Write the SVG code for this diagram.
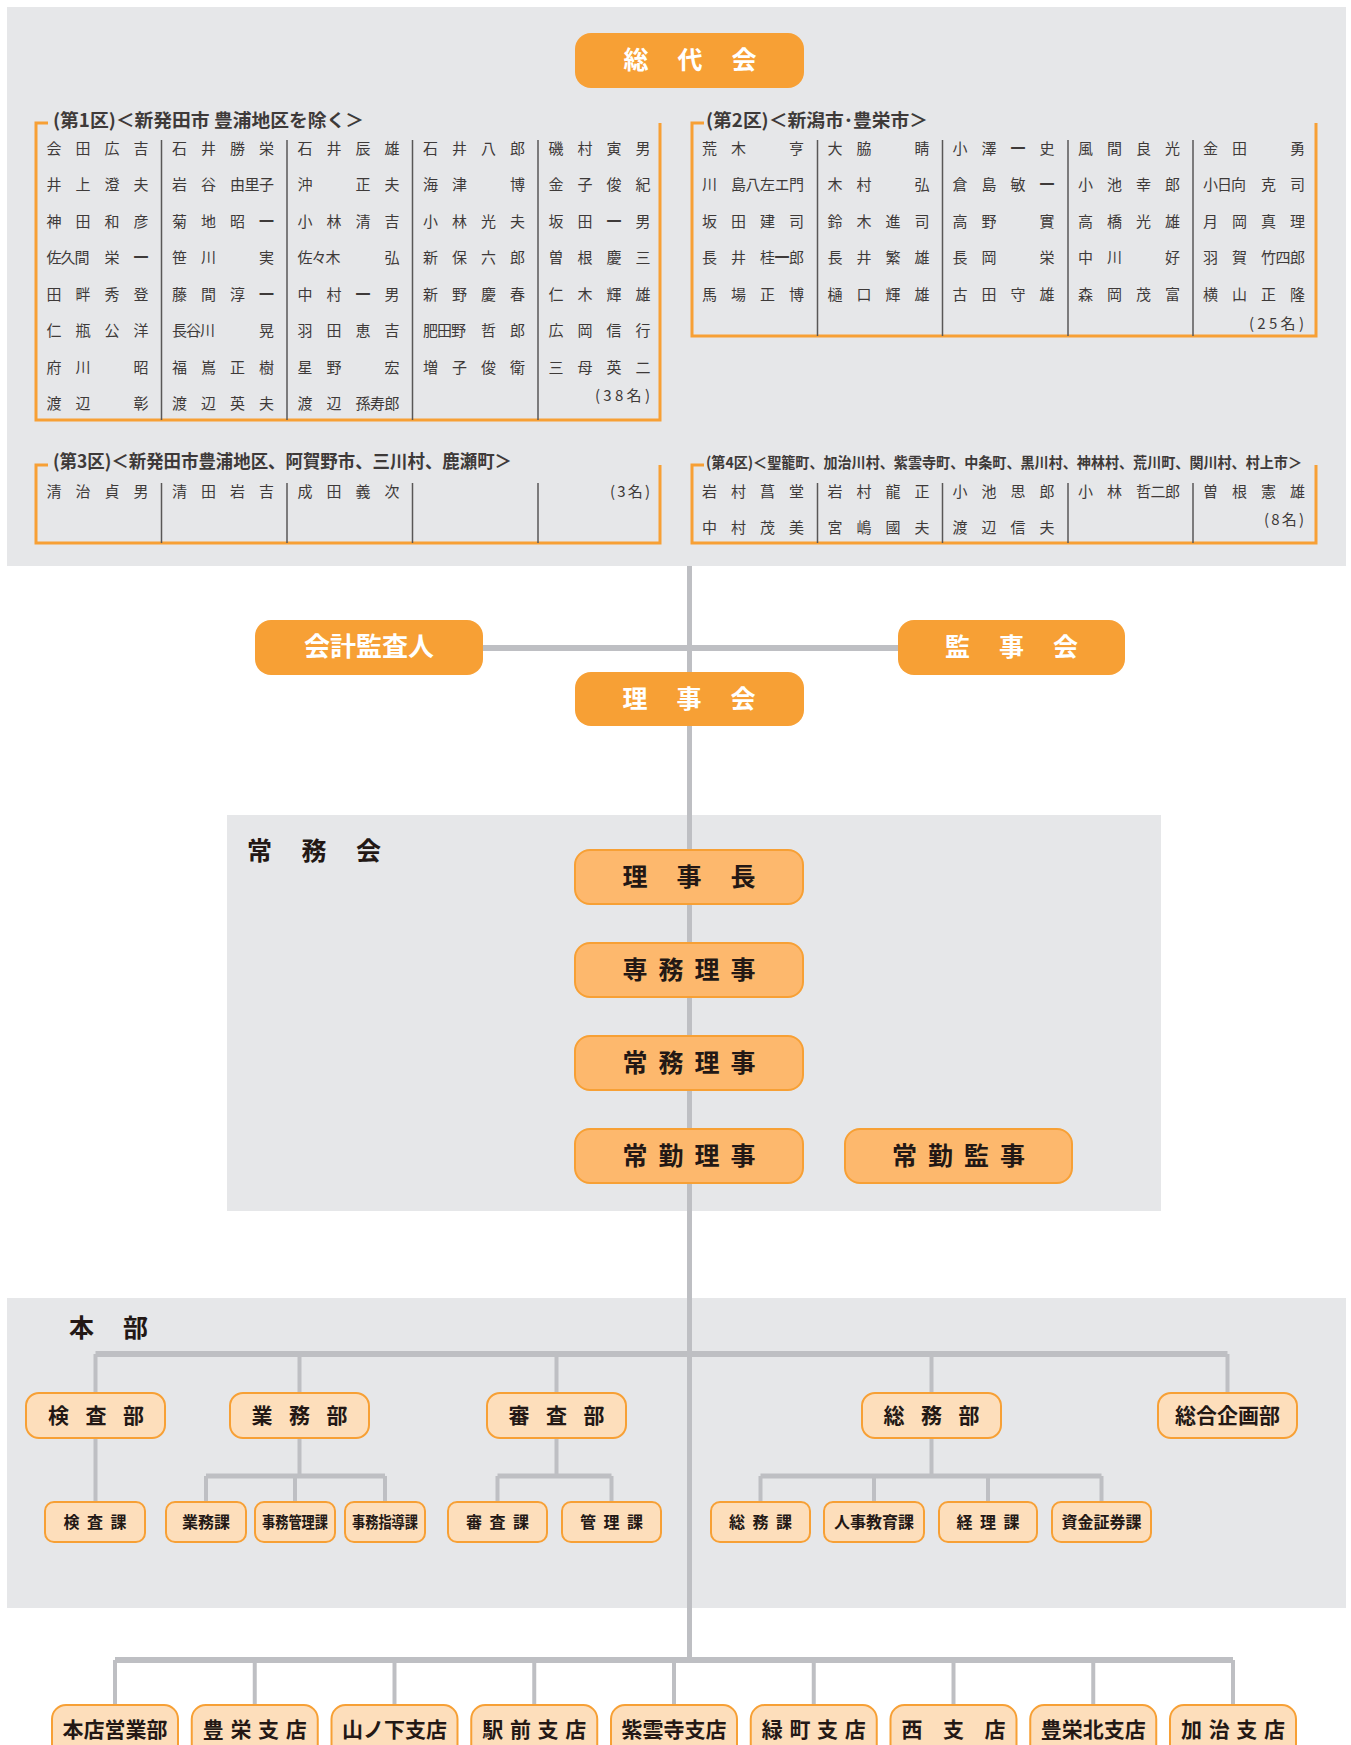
<svg xmlns="http://www.w3.org/2000/svg" width="1351" height="1745" viewBox="0 0 1351 1745">
<style>
text{font-family:"Noto Sans CJK JP","Noto Sans",sans-serif}
.panel{fill:#e6e7e9}
.nm{font-size:15px;fill:#3e3a39}
.nm .b{font-weight:bold}
.ttl{font-size:18px;font-weight:bold;fill:#3e3a39}
.br{fill:none;stroke:#f7a035;stroke-width:3}
.sep{stroke:#595757;stroke-width:1.5}
.bx1{fill:#f7a035}
.w{fill:#fff;font-size:25px;font-weight:bold;text-anchor:middle}
.bx2{fill:#fdb86d;stroke:#f7a035;stroke-width:2}
.bx3{fill:#fddebb;stroke:#f7a035;stroke-width:2}
.d{fill:#231815;font-weight:bold;text-anchor:middle}
.lbl{fill:#231815;font-weight:bold;font-size:25px}
.ln{stroke:#bebfc3;fill:none}
</style>

<!-- panels -->
<rect class="panel" x="7" y="7" width="1339" height="559"/>
<rect class="panel" x="227" y="815" width="934" height="396"/>
<rect class="panel" x="7" y="1298" width="1339" height="310"/>

<!-- connectors -->
<g id="connectors" class="ln">
  <line x1="689.5" y1="566" x2="689.5" y2="1660" stroke-width="5"/>
  <line x1="483" y1="648" x2="898" y2="648" stroke-width="6"/>
  <line x1="95.5" y1="1354" x2="1227.5" y2="1354" stroke-width="6"/>
  <line x1="95.5" y1="1354" x2="95.5" y2="1502" stroke-width="4"/>
  <line x1="299.5" y1="1354" x2="299.5" y2="1393" stroke-width="4"/>
  <line x1="556.5" y1="1354" x2="556.5" y2="1393" stroke-width="4"/>
  <line x1="931.5" y1="1354" x2="931.5" y2="1393" stroke-width="4"/>
  <line x1="1227.5" y1="1354" x2="1227.5" y2="1393" stroke-width="4"/>
  <line x1="299.5" y1="1438" x2="299.5" y2="1476" stroke-width="4"/>
  <line x1="206" y1="1476" x2="385" y2="1476" stroke-width="5"/>
  <line x1="206" y1="1476" x2="206" y2="1502" stroke-width="4"/>
  <line x1="295" y1="1476" x2="295" y2="1502" stroke-width="4"/>
  <line x1="385" y1="1476" x2="385" y2="1502" stroke-width="4"/>
  <line x1="556.5" y1="1438" x2="556.5" y2="1476" stroke-width="4"/>
  <line x1="497.5" y1="1476" x2="611.5" y2="1476" stroke-width="5"/>
  <line x1="497.5" y1="1476" x2="497.5" y2="1502" stroke-width="4"/>
  <line x1="611.5" y1="1476" x2="611.5" y2="1502" stroke-width="4"/>
  <line x1="931.5" y1="1438" x2="931.5" y2="1476" stroke-width="4"/>
  <line x1="760.5" y1="1476" x2="1101.5" y2="1476" stroke-width="5"/>
  <line x1="760.5" y1="1476" x2="760.5" y2="1502" stroke-width="4"/>
  <line x1="874" y1="1476" x2="874" y2="1502" stroke-width="4"/>
  <line x1="988" y1="1476" x2="988" y2="1502" stroke-width="4"/>
  <line x1="1101.5" y1="1476" x2="1101.5" y2="1502" stroke-width="4"/>
  <line x1="115" y1="1660" x2="1233" y2="1660" stroke-width="6"/>
  <line x1="115" y1="1660" x2="115" y2="1705" stroke-width="4"/>
  <line x1="254.75" y1="1660" x2="254.75" y2="1705" stroke-width="4"/>
  <line x1="394.5" y1="1660" x2="394.5" y2="1705" stroke-width="4"/>
  <line x1="534.25" y1="1660" x2="534.25" y2="1705" stroke-width="4"/>
  <line x1="674" y1="1660" x2="674" y2="1705" stroke-width="4"/>
  <line x1="813.75" y1="1660" x2="813.75" y2="1705" stroke-width="4"/>
  <line x1="953.5" y1="1660" x2="953.5" y2="1705" stroke-width="4"/>
  <line x1="1093.25" y1="1660" x2="1093.25" y2="1705" stroke-width="4"/>
  <line x1="1233" y1="1660" x2="1233" y2="1705" stroke-width="4"/>
</g>

<!-- top box -->
<g id="soudaikai">
  <rect class="bx1" x="575" y="33" width="229" height="55" rx="16"/>
  <text class="w" x="636 690 744" y="69">総代会</text>
</g>

<!-- District 1 -->
<g id="district1">
  <path class="br" d="M48,123 H36 V420 H660 V123"/>
  <text class="ttl" x="53" y="127" textLength="311" lengthAdjust="spacingAndGlyphs">(第1区)＜新発田市 豊浦地区を除く＞</text>
  <g class="sep">
    <line x1="161.5" y1="140" x2="161.5" y2="420"/>
    <line x1="287" y1="140" x2="287" y2="420"/>
    <line x1="412.5" y1="140" x2="412.5" y2="420"/>
    <line x1="538" y1="140" x2="538" y2="420"/>
  </g>
  <g class="nm">
    <text x="46.5 75.5 104.5 133.5" y="153.5">会田広吉</text>
    <text x="172 201 230 259" y="153.5">石井勝栄</text>
    <text x="297.5 326.5 355.5 384.5" y="153.5">石井辰雄</text>
    <text x="423 452 481 510" y="153.5">石井八郎</text>
    <text x="548.5 577.5 606.5 635.5" y="153.5">磯村寅男</text>

    <text x="46.5 75.5 104.5 133.5" y="190">井上澄夫</text>
    <text x="172 201 230 244.5 259" y="190">岩谷由里子</text>
    <text x="297.5 355.5 384.5" y="190">沖正夫</text>
    <text x="423 452 510" y="190">海津博</text>
    <text x="548.5 577.5 606.5 635.5" y="190">金子俊紀</text>

    <text x="46.5 75.5 104.5 133.5" y="226.5">神田和彦</text>
    <text x="172 201 230 259" y="226.5">菊地昭<tspan class="b">一</tspan></text>
    <text x="297.5 326.5 355.5 384.5" y="226.5">小林清吉</text>
    <text x="423 452 481 510" y="226.5">小林光夫</text>
    <text x="548.5 577.5 606.5 635.5" y="226.5">坂田<tspan class="b">一</tspan>男</text>

    <text x="46.5 60.5 74.5 104.5 133.5" y="263">佐久間栄<tspan class="b">一</tspan></text>
    <text x="172 201 259" y="263">笹川実</text>
    <text x="297.5 311.5 325.5 384.5" y="263">佐々木弘</text>
    <text x="423 452 481 510" y="263">新保六郎</text>
    <text x="548.5 577.5 606.5 635.5" y="263">曽根慶三</text>

    <text x="46.5 75.5 104.5 133.5" y="299.5">田畔秀登</text>
    <text x="172 201 230 259" y="299.5">藤間淳<tspan class="b">一</tspan></text>
    <text x="297.5 326.5 355.5 384.5" y="299.5">中村<tspan class="b">一</tspan>男</text>
    <text x="423 452 481 510" y="299.5">新野慶春</text>
    <text x="548.5 577.5 606.5 635.5" y="299.5">仁木輝雄</text>

    <text x="46.5 75.5 104.5 133.5" y="336">仁瓶公洋</text>
    <text x="172 186 200 259" y="336">長谷川晃</text>
    <text x="297.5 326.5 355.5 384.5" y="336">羽田恵吉</text>
    <text x="423 437 451 481 510" y="336">肥田野哲郎</text>
    <text x="548.5 577.5 606.5 635.5" y="336">広岡信行</text>

    <text x="46.5 75.5 133.5" y="372.5">府川昭</text>
    <text x="172 201 230 259" y="372.5">福嶌正樹</text>
    <text x="297.5 326.5 384.5" y="372.5">星野宏</text>
    <text x="423 452 481 510" y="372.5">増子俊衛</text>
    <text x="548.5 577.5 606.5 635.5" y="372.5">三母英二</text>

    <text x="46.5 75.5 133.5" y="409">渡辺彰</text>
    <text x="172 201 230 259" y="409">渡辺英夫</text>
    <text x="297.5 326.5 355.5 370 384.5" y="409">渡辺孫寿郎</text>
    <text x="650" y="400.5" text-anchor="end" textLength="55">(38名)</text>
  </g>
</g>

<!-- District 2 -->
<g id="district2">
  <path class="br" d="M704,123 H692 V336 H1316 V123"/>
  <text class="ttl" x="706" y="127" textLength="222" lengthAdjust="spacingAndGlyphs">(第2区)＜新潟市･豊栄市＞</text>
  <g class="sep">
    <line x1="817.5" y1="140" x2="817.5" y2="336"/>
    <line x1="942.5" y1="140" x2="942.5" y2="336"/>
    <line x1="1068" y1="140" x2="1068" y2="336"/>
    <line x1="1193" y1="140" x2="1193" y2="336"/>
  </g>
  <g class="nm">
    <text x="702 731 789" y="153.5">荒木亨</text>
    <text x="827.5 856.5 914.5" y="153.5">大脇睛</text>
    <text x="952.5 981.5 1010.5 1039.5" y="153.5">小澤<tspan class="b">一</tspan>史</text>
    <text x="1078 1107 1136 1165" y="153.5">風間良光</text>
    <text x="1203 1232 1290" y="153.5">金田勇</text>

    <text x="702 731 745.5 760 774.5 789" y="190">川島八左エ門</text>
    <text x="827.5 856.5 914.5" y="190">木村弘</text>
    <text x="952.5 981.5 1010.5 1039.5" y="190">倉島敏<tspan class="b">一</tspan></text>
    <text x="1078 1107 1136 1165" y="190">小池幸郎</text>
    <text x="1203 1217 1231 1261 1290" y="190">小日向克司</text>

    <text x="702 731 760 789" y="226.5">坂田建司</text>
    <text x="827.5 856.5 885.5 914.5" y="226.5">鈴木進司</text>
    <text x="952.5 981.5 1039.5" y="226.5">高野實</text>
    <text x="1078 1107 1136 1165" y="226.5">高橋光雄</text>
    <text x="1203 1232 1261 1290" y="226.5">月岡真理</text>

    <text x="702 731 760 774.5 789" y="263">長井桂<tspan class="b">一</tspan>郎</text>
    <text x="827.5 856.5 885.5 914.5" y="263">長井繁雄</text>
    <text x="952.5 981.5 1039.5" y="263">長岡栄</text>
    <text x="1078 1107 1165" y="263">中川好</text>
    <text x="1203 1232 1261 1275.5 1290" y="263">羽賀竹四郎</text>

    <text x="702 731 760 789" y="299.5">馬場正博</text>
    <text x="827.5 856.5 885.5 914.5" y="299.5">樋口輝雄</text>
    <text x="952.5 981.5 1010.5 1039.5" y="299.5">古田守雄</text>
    <text x="1078 1107 1136 1165" y="299.5">森岡茂富</text>
    <text x="1203 1232 1261 1290" y="299.5">横山正隆</text>
    <text x="1304" y="328.5" text-anchor="end" textLength="55">(25名)</text>
  </g>
</g>

<!-- District 3 -->
<g id="district3">
  <path class="br" d="M48,465 H36 V543 H660 V465"/>
  <text class="ttl" x="53" y="468" textLength="459" lengthAdjust="spacingAndGlyphs">(第3区)＜新発田市豊浦地区、阿賀野市、三川村、鹿瀬町＞</text>
  <g class="sep">
    <line x1="161.5" y1="483" x2="161.5" y2="543"/>
    <line x1="287" y1="483" x2="287" y2="543"/>
    <line x1="412.5" y1="483" x2="412.5" y2="543"/>
    <line x1="538" y1="483" x2="538" y2="543"/>
  </g>
  <g class="nm">
    <text x="46.5 75.5 104.5 133.5" y="496.5">清治貞男</text>
    <text x="172 201 230 259" y="496.5">清田岩吉</text>
    <text x="297.5 326.5 355.5 384.5" y="496.5">成田義次</text>
    <text x="650" y="496.5" text-anchor="end" textLength="40">(3名)</text>
  </g>
</g>

<!-- District 4 -->
<g id="district4">
  <path class="br" d="M704,465 H692 V543 H1316 V465"/>
  <text class="ttl" x="706" y="467.5" style="font-size:15px" textLength="596" lengthAdjust="spacingAndGlyphs">(第4区)＜聖籠町、加治川村、紫雲寺町、中条町、黒川村、神林村、荒川町、関川村、村上市＞</text>
  <g class="sep">
    <line x1="817.5" y1="483" x2="817.5" y2="543"/>
    <line x1="942.5" y1="483" x2="942.5" y2="543"/>
    <line x1="1068" y1="483" x2="1068" y2="543"/>
    <line x1="1193" y1="483" x2="1193" y2="543"/>
  </g>
  <g class="nm">
    <text x="702 731 760 789" y="496.5">岩村菖堂</text>
    <text x="827.5 856.5 885.5 914.5" y="496.5">岩村龍正</text>
    <text x="952.5 981.5 1010.5 1039.5" y="496.5">小池思郎</text>
    <text x="1078 1107 1136 1150.5 1165" y="496.5">小林哲二郎</text>
    <text x="1203 1232 1261 1290" y="496.5">曽根憲雄</text>
    <text x="702 731 760 789" y="533">中村茂美</text>
    <text x="827.5 856.5 885.5 914.5" y="533">宮嶋國夫</text>
    <text x="952.5 981.5 1010.5 1039.5" y="533">渡辺信夫</text>
    <text x="1304" y="524.5" text-anchor="end" textLength="40">(8名)</text>
  </g>
</g>

<!-- board -->
<g id="kaikei">
  <rect class="bx1" x="255" y="620" width="228" height="55" rx="16"/>
  <text class="w" x="369" y="656" style="font-size:26px">会計監査人</text>
</g>
<g id="kanjikai">
  <rect class="bx1" x="898" y="620" width="227" height="55" rx="16"/>
  <text class="w" x="957.5 1011.5 1065.5" y="656">監事会</text>
</g>
<g id="rijikai">
  <rect class="bx1" x="575" y="672" width="229" height="54" rx="16"/>
  <text class="w" x="635 689 743" y="708">理事会</text>
</g>

<!-- 常務会 -->
<text class="lbl" x="247 301.5 356" y="860">常務会</text>
<g id="rijicho">
  <rect class="bx2" x="575" y="850" width="228" height="54" rx="15"/>
  <text class="d" font-size="25" x="635 689 743" y="886">理事長</text>
</g>
<g id="senmu">
  <rect class="bx2" x="575" y="943" width="228" height="54" rx="15"/>
  <text class="d" font-size="25" x="635 671 707 743" y="979">専務理事</text>
</g>
<g id="jomu">
  <rect class="bx2" x="575" y="1036" width="228" height="54" rx="15"/>
  <text class="d" font-size="25" x="635 671 707 743" y="1072">常務理事</text>
</g>
<g id="jokin-riji">
  <rect class="bx2" x="575" y="1129" width="228" height="54" rx="15"/>
  <text class="d" font-size="25" x="635 671 707 743" y="1165">常勤理事</text>
</g>
<g id="jokin-kanji">
  <rect class="bx2" x="845" y="1129" width="227" height="54" rx="15"/>
  <text class="d" font-size="25" x="904.5 940.5 976.5 1012.5" y="1165">常勤監事</text>
</g>

<!-- 本部 -->
<text class="lbl" x="69 123" y="1337">本部</text>
<g id="kensabu">
  <rect class="bx3" x="26" y="1393" width="139" height="45" rx="13"/>
  <text class="d" font-size="21" x="58.5 96 133.5" y="1423">検査部</text>
</g>
<g id="gyomubu">
  <rect class="bx3" x="230" y="1393" width="139" height="45" rx="13"/>
  <text class="d" font-size="21" x="262 299.5 337" y="1423">業務部</text>
</g>
<g id="shinsabu">
  <rect class="bx3" x="487" y="1393" width="139" height="45" rx="13"/>
  <text class="d" font-size="21" x="519 556.5 594" y="1423">審査部</text>
</g>
<g id="somubu">
  <rect class="bx3" x="862" y="1393" width="139" height="45" rx="13"/>
  <text class="d" font-size="21" x="894 931.5 969" y="1423">総務部</text>
</g>
<g id="sogokikakubu">
  <rect class="bx3" x="1158" y="1393" width="139" height="45" rx="13"/>
  <text class="d" font-size="21" x="1227.5" y="1423">総合企画部</text>
</g>

<g id="kensaka">
  <rect class="bx3" x="45" y="1502" width="100" height="40" rx="9"/>
  <text class="d" font-size="16" x="71.5 95 118.5" y="1528">検査課</text>
</g>
<g id="gyomuka">
  <rect class="bx3" x="166" y="1502" width="80" height="40" rx="9"/>
  <text class="d" font-size="16" x="206" y="1528">業務課</text>
</g>
<g id="jimukanrika">
  <rect class="bx3" x="255" y="1502" width="80" height="40" rx="9"/>
  <text class="d" font-size="16" x="295" y="1528" textLength="66" lengthAdjust="spacingAndGlyphs">事務管理課</text>
</g>
<g id="jimushidoka">
  <rect class="bx3" x="345" y="1502" width="80" height="40" rx="9"/>
  <text class="d" font-size="16" x="385" y="1528" textLength="66" lengthAdjust="spacingAndGlyphs">事務指導課</text>
</g>
<g id="shinsaka">
  <rect class="bx3" x="448" y="1502" width="99" height="40" rx="9"/>
  <text class="d" font-size="16" x="474 497.5 521" y="1528">審査課</text>
</g>
<g id="kanrika">
  <rect class="bx3" x="562" y="1502" width="99" height="40" rx="9"/>
  <text class="d" font-size="16" x="588 611.5 635" y="1528">管理課</text>
</g>
<g id="somuka">
  <rect class="bx3" x="711" y="1502" width="99" height="40" rx="9"/>
  <text class="d" font-size="16" x="737 760.5 784" y="1528">総務課</text>
</g>
<g id="jinjika">
  <rect class="bx3" x="824" y="1502" width="100" height="40" rx="9"/>
  <text class="d" font-size="16" x="874" y="1528">人事教育課</text>
</g>
<g id="keirika">
  <rect class="bx3" x="939" y="1502" width="98" height="40" rx="9"/>
  <text class="d" font-size="16" x="964.5 988 1011.5" y="1528">経理課</text>
</g>
<g id="shikinka">
  <rect class="bx3" x="1052" y="1502" width="99" height="40" rx="9"/>
  <text class="d" font-size="16" x="1101.5" y="1528">資金証券課</text>
</g>

<!-- branches -->
<g id="honten">
  <rect class="bx3" x="52" y="1705" width="126" height="60" rx="14"/>
  <text class="d" font-size="21" x="115" y="1737">本店営業部</text>
</g>
<g id="toyosaka">
  <rect class="bx3" x="191.75" y="1705" width="126" height="60" rx="14"/>
  <text class="d" font-size="21" x="213.25 241 268.5 296.25" y="1737">豊栄支店</text>
</g>
<g id="yamanoshita">
  <rect class="bx3" x="331.5" y="1705" width="126" height="60" rx="14"/>
  <text class="d" font-size="21" x="394.5" y="1737">山ノ下支店</text>
</g>
<g id="ekimae">
  <rect class="bx3" x="471.25" y="1705" width="126" height="60" rx="14"/>
  <text class="d" font-size="21" x="492.75 520.5 548 575.75" y="1737">駅前支店</text>
</g>
<g id="shiunji">
  <rect class="bx3" x="611" y="1705" width="126" height="60" rx="14"/>
  <text class="d" font-size="21" x="674" y="1737">紫雲寺支店</text>
</g>
<g id="midoricho">
  <rect class="bx3" x="750.75" y="1705" width="126" height="60" rx="14"/>
  <text class="d" font-size="21" x="772.25 800 827.5 855.25" y="1737">緑町支店</text>
</g>
<g id="nishi">
  <rect class="bx3" x="890.5" y="1705" width="126" height="60" rx="14"/>
  <text class="d" font-size="21" x="912 953.5 995" y="1737">西支店</text>
</g>
<g id="toyosakakita">
  <rect class="bx3" x="1030.25" y="1705" width="126" height="60" rx="14"/>
  <text class="d" font-size="21" x="1093.25" y="1737">豊栄北支店</text>
</g>
<g id="kaji">
  <rect class="bx3" x="1170" y="1705" width="126" height="60" rx="14"/>
  <text class="d" font-size="21" x="1191.5 1219.25 1246.75 1274.5" y="1737">加治支店</text>
</g>
</svg>
